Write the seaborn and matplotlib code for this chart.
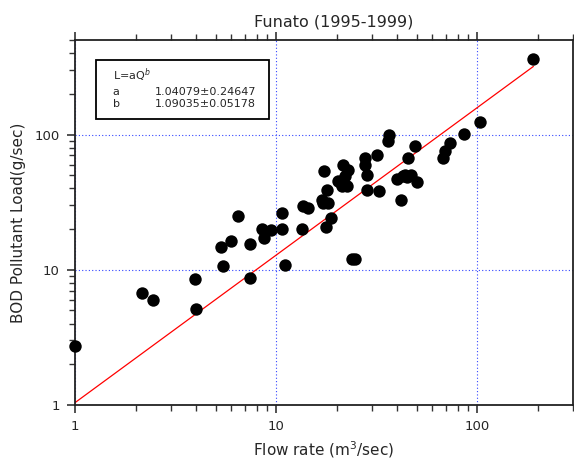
import numpy as np
import pandas as pd
import matplotlib
matplotlib.use("Agg")
import matplotlib.pyplot as plt
import seaborn as sns
from matplotlib.patches import Rectangle
from matplotlib.ticker import LogLocator, FixedLocator, FixedFormatter, NullFormatter

sns.set_theme(style="white")
plt.rcParams['font.family'] = ['DejaVu Sans']

flow = [1.0, 2.15, 2.44, 3.95, 4.0, 5.33, 5.45, 5.97, 6.47, 7.43, 7.43, 8.52, 8.7, 9.44,
        10.7, 10.7, 11.1, 13.5, 13.6, 14.4, 17.3, 16.9, 17.1, 17.9, 18.1, 17.7, 18.8,
        21.6, 22.9, 20.4, 22.0, 21.2, 22.5, 21.0, 24.0, 24.6, 27.7, 27.7, 28.5, 28.5,
        31.7, 32.7, 36.2, 36.6, 39.8, 41.9, 42.7, 43.8, 44.6, 46.9, 45.5, 49.2, 50.5,
        68.0, 69.3, 73.4, 86.2, 103.5, 190.6]
load = [2.74, 6.76, 6.0, 8.58, 5.14, 14.8, 10.7, 16.4, 25.1, 15.6, 8.72, 20.1, 17.3, 19.8,
        26.4, 20.1, 10.9, 20.1, 29.8, 28.8, 54.1, 33.0, 31.4, 38.7, 31.4, 20.8, 24.3,
        60.0, 55.0, 45.1, 49.1, 41.4, 41.4, 43.9, 12.0, 12.0, 67.2, 60.0, 50.5, 39.1,
        71.1, 38.0, 89.2, 98.4, 47.0, 33.0, 49.1, 50.5, 48.5, 50.5, 67.2, 81.9, 44.3,
        67.2, 75.2, 86.8, 101.0, 123.0, 364.0]

a_fit, a_err = 1.04079, 0.24647
b_fit, b_err = 1.09035, 0.05178

title = "Funato (1995-1999)"
xlabel = "Flow rate (m$^3$/sec)"
ylabel = "BOD Pollutant Load(g/sec)"
xticks = [1, 10, 100]
yticks = [1, 10, 100]
tick_labels = ["1", "10", "100"]

df = pd.DataFrame({"flow": flow, "load": load})
q_line = np.logspace(0, np.log10(max(flow)), 60)
fit_df = pd.DataFrame({"flow": q_line, "load": a_fit * q_line ** b_fit})

fig = plt.figure(figsize=(5.74, 4.62), dpi=100)
ax = fig.add_axes([75/574, 1-405/462, (573-75)/574, (405-40)/462])
ax.set_xscale("log")
ax.set_yscale("log")

sns.lineplot(data=fit_df, x="flow", y="load", ax=ax, color="red", lw=0.9, zorder=2)
sns.scatterplot(data=df, x="flow", y="load", ax=ax, color="black", s=80,
                edgecolor="black", linewidth=0, zorder=3, clip_on=False)

ax.set_xlim(1, 300)
ax.set_ylim(1, 500)

ax.xaxis.set_major_locator(FixedLocator(xticks))
ax.xaxis.set_major_formatter(FixedFormatter(tick_labels))
ax.yaxis.set_major_locator(FixedLocator(yticks))
ax.yaxis.set_major_formatter(FixedFormatter(tick_labels))
ax.xaxis.set_minor_locator(LogLocator(base=10, subs=np.arange(2, 10)))
ax.yaxis.set_minor_locator(LogLocator(base=10, subs=np.arange(2, 10)))
ax.xaxis.set_minor_formatter(NullFormatter())
ax.yaxis.set_minor_formatter(NullFormatter())

ax.tick_params(which="major", direction="out", length=6, width=1.2, color="#333333",
               labelsize=9.5, bottom=True, left=True, pad=5)
ax.tick_params(which="minor", direction="out", length=4, width=1.0, color="#333333",
               bottom=True, left=True)
ax.tick_params(axis="x", which="both", top=True, direction="out")
for sp in ax.spines.values():
    sp.set_color("#222222")
    sp.set_linewidth(1.3)

ax.grid(True, which="major", color="#3344ff", linestyle=(0, (1, 2)), linewidth=0.8)
ax.set_axisbelow(True)

ax.set_title(title, fontsize=11.5, pad=10, x=0.52)
ax.set_xlabel(xlabel, fontsize=11, labelpad=4)
ax.set_ylabel(ylabel, fontsize=11, labelpad=6)

# parameter box
ax.add_patch(Rectangle((0.042, 0.784), 0.348, 0.161, transform=ax.transAxes,
                       facecolor="white", edgecolor="black", linewidth=1.3, zorder=4))
kw = dict(transform=ax.transAxes, fontsize=8, va="center", ha="left", zorder=5)
ax.text(0.076, 0.904, "L=aQ$^b$", **kw)
ax.text(0.076, 0.858, "a", **kw)
ax.text(0.076, 0.825, "b", **kw)
ax.text(0.161, 0.858, f"{a_fit:.5f}±{a_err:.5f}", **kw)
ax.text(0.161, 0.825, f"{b_fit:.5f}±{b_err:.5f}", **kw)

fig.savefig("out.png", dpi=100)
